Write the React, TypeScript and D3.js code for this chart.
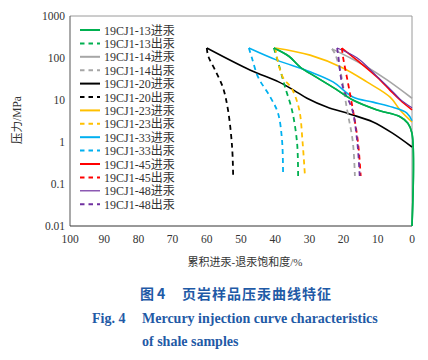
import React from 'react';
import * as d3 from 'd3';

// saturation (%) and pressure (MPa) pairs
const s13in = [[40.4, 173], [36, 110], [32.7, 61], [28, 35], [23.1, 20], [17.3, 10], [10.2, 5.8], [3.5, 4], [1.2, 2.8], [0, 1.6], [0, 0.01]];
const s13out = [[40.4, 173], [39.5, 100], [38.3, 45], [37.1, 20], [35.1, 5.8], [33.6, 0.95], [33.3, 0.155]];
const s14in = [[23.4, 165], [18, 100], [13.2, 61], [7.3, 30], [0, 11]];
const s14out = [[23.4, 165], [22.5, 125], [21, 50], [19, 6], [17.3, 1], [16.7, 0.155]];
const s20in = [[60, 173], [47.4, 52], [39, 27], [34.5, 17], [30.7, 11], [24.9, 6.8], [18.1, 4.6], [11.4, 3], [5.6, 1.6], [0, 0.76]];
const s20out = [[60, 173], [59.6, 112], [57.6, 52], [55.3, 20], [53.8, 5.8], [52.6, 0.76], [52.3, 0.16]];
const s23in = [[40, 173], [29.8, 117], [20.2, 58], [13.2, 27], [6.4, 11.7], [3.5, 5.8], [0, 3]];
const s23out = [[40, 173], [38.8, 60], [37.6, 33], [35.2, 19], [33, 6], [32, 1], [31.3, 0.155]];
const s33in = [[47.7, 173], [39.5, 89], [29.8, 47], [23.1, 27], [17.3, 11.8], [11.4, 8.9], [5.6, 6.7], [1.5, 4.9], [0, 3.2]];
const s33out = [[47.7, 173], [46.8, 100], [45, 35], [41.5, 12], [39.2, 4.9], [38, 1.1], [37.7, 0.155]];
const s45in = [[20.5, 173], [16.1, 89], [10.2, 35], [6.4, 17], [3.5, 10], [0, 5.8]];
const s45out = [[20.5, 173], [20.2, 110], [18.7, 25], [17.3, 6], [15.8, 1], [15, 0.155]];
const s48in = [[21.9, 173], [16, 100], [10, 35], [6, 17], [3.5, 10.5], [0, 6.5]];
const s48out = [[21.9, 173], [21.6, 120], [20.2, 20], [17.5, 6], [16, 1], [15.3, 0.155]];

const sampleNames = ['19CJ1-13', '19CJ1-14', '19CJ1-20', '19CJ1-23', '19CJ1-33', '19CJ1-45', '19CJ1-48'];
const sampleColors = ['#00b050', '#a6a6a6', '#000000', '#ffc000', '#00b0f0', '#ff0000', '#7030a0'];
const inCurves = [s13in, s14in, s20in, s23in, s33in, s45in, s48in];
const outCurves = [s13out, s14out, s20out, s23out, s33out, s45out, s48out];

const yTicks = [1000, 100, 10, 1, 0.1, 0.01];
const yTickLabels = ['1000', '100', '10', '1', '0.1', '0.01'];
const xTicks = [100, 90, 80, 70, 60, 50, 40, 30, 20, 10, 0];

const LEFT = 70, RIGHT = 412, TOP = 16, BOTTOM = 226;
const numFont = '"Liberation Serif", "Noto Sans CJK SC", serif';

export default function App() {
  const x = d3.scaleLinear().domain([100, 0]).range([LEFT, RIGHT]);
  const y = d3.scaleLog().domain([0.01, 1000]).range([BOTTOM, TOP]);
  const line = d3.line<number[]>()
    .x(d => x(d[0]))
    .y(d => y(d[1]))
    .curve(d3.curveCatmullRom.alpha(0.5));

  const legendRows: { label: string; color: string; dashed: boolean; width: number }[] = [];
  sampleNames.forEach((n, i) => {
    const w = i === 6 ? 1.2 : 2;
    legendRows.push({ label: n + '进汞', color: sampleColors[i], dashed: false, width: w });
    legendRows.push({ label: n + '出汞', color: sampleColors[i], dashed: true, width: 2 });
  });

  return (
    <svg width={428} height={360} style={{ position: 'absolute', left: 0, top: 0, background: '#fff' }}>
      <rect x={0} y={0} width={428} height={360} fill="#fff" />
      {/* plot frame */}
      <line x1={LEFT} x2={RIGHT} y1={TOP} y2={TOP} stroke="#9a9a9a" strokeWidth={1} />
      <line x1={RIGHT} x2={RIGHT} y1={TOP} y2={BOTTOM} stroke="#9a9a9a" strokeWidth={1} />
      <line x1={LEFT} x2={LEFT} y1={TOP} y2={BOTTOM} stroke="#555" strokeWidth={1} />
      <line x1={LEFT} x2={RIGHT} y1={BOTTOM} y2={BOTTOM} stroke="#333" strokeWidth={1} />

      {/* y tick labels */}
      {yTicks.map((t, i) => (
        <text key={t} x={65} y={y(t) + 4} textAnchor="end" fontSize={11.5} fontFamily={numFont} fill="#333">{yTickLabels[i]}</text>
      ))}
      {/* x tick labels */}
      {xTicks.map(t => (
        <text key={t} x={x(t)} y={243} textAnchor="middle" fontSize={11.5} fontFamily={numFont} fill="#333">{t}</text>
      ))}

      {/* curves */}
      {inCurves.map((c, i) => (
        <path key={'in' + i} d={line(c) || ''} fill="none" stroke={sampleColors[i]} strokeWidth={i === 6 ? 1.2 : 1.6} />
      ))}
      {outCurves.map((c, i) => (
        <path key={'out' + i} d={line(c) || ''} fill="none" stroke={sampleColors[i]} strokeWidth={1.8} strokeDasharray="5,4" />
      ))}
      {/* 13 intrusion on top for the vertical at 0 */}
      <path d={line(s13in) || ''} fill="none" stroke={sampleColors[0]} strokeWidth={1.6} />

      {/* legend */}
      {legendRows.map((r, i) => {
        const ly = 30 + i * 13.4;
        return (
          <g key={r.label}>
            <line x1={80} x2={100} y1={ly} y2={ly} stroke={r.color} strokeWidth={r.width} strokeDasharray={r.dashed ? '4.5,4' : undefined} />
            <text x={104} y={ly + 4.5} fontSize={12} fontFamily={numFont} fill="#333">{r.label}</text>
          </g>
        );
      })}

      {/* axis titles */}
      <text transform="translate(21,120) rotate(-90)" textAnchor="middle" fontSize={11.5} fontFamily={numFont} fill="#333">压力/MPa</text>
      <text x={245} y={266} textAnchor="middle" fontSize={11} fontFamily={numFont} fill="#333">累积进汞-退汞饱和度/%</text>

      {/* caption */}
      <text x={140} y={299} fontSize={14} fontWeight="bold" fontFamily='"Noto Sans CJK SC", sans-serif' fill="#1f5aa6">
        图<tspan x={157}>4</tspan><tspan x={182} letterSpacing={1}>页岩样品压汞曲线特征</tspan>
      </text>
      <text x={92} y={323} fontSize={14} fontWeight="bold" fontFamily='"Liberation Serif", serif' fill="#1f5aa6">
        Fig. 4<tspan x={142}>Mercury injection curve characteristics</tspan>
      </text>
      <text x={142} y={346} fontSize={14} fontWeight="bold" fontFamily='"Liberation Serif", serif' fill="#1f5aa6">of shale samples</text>
    </svg>
  );
}
